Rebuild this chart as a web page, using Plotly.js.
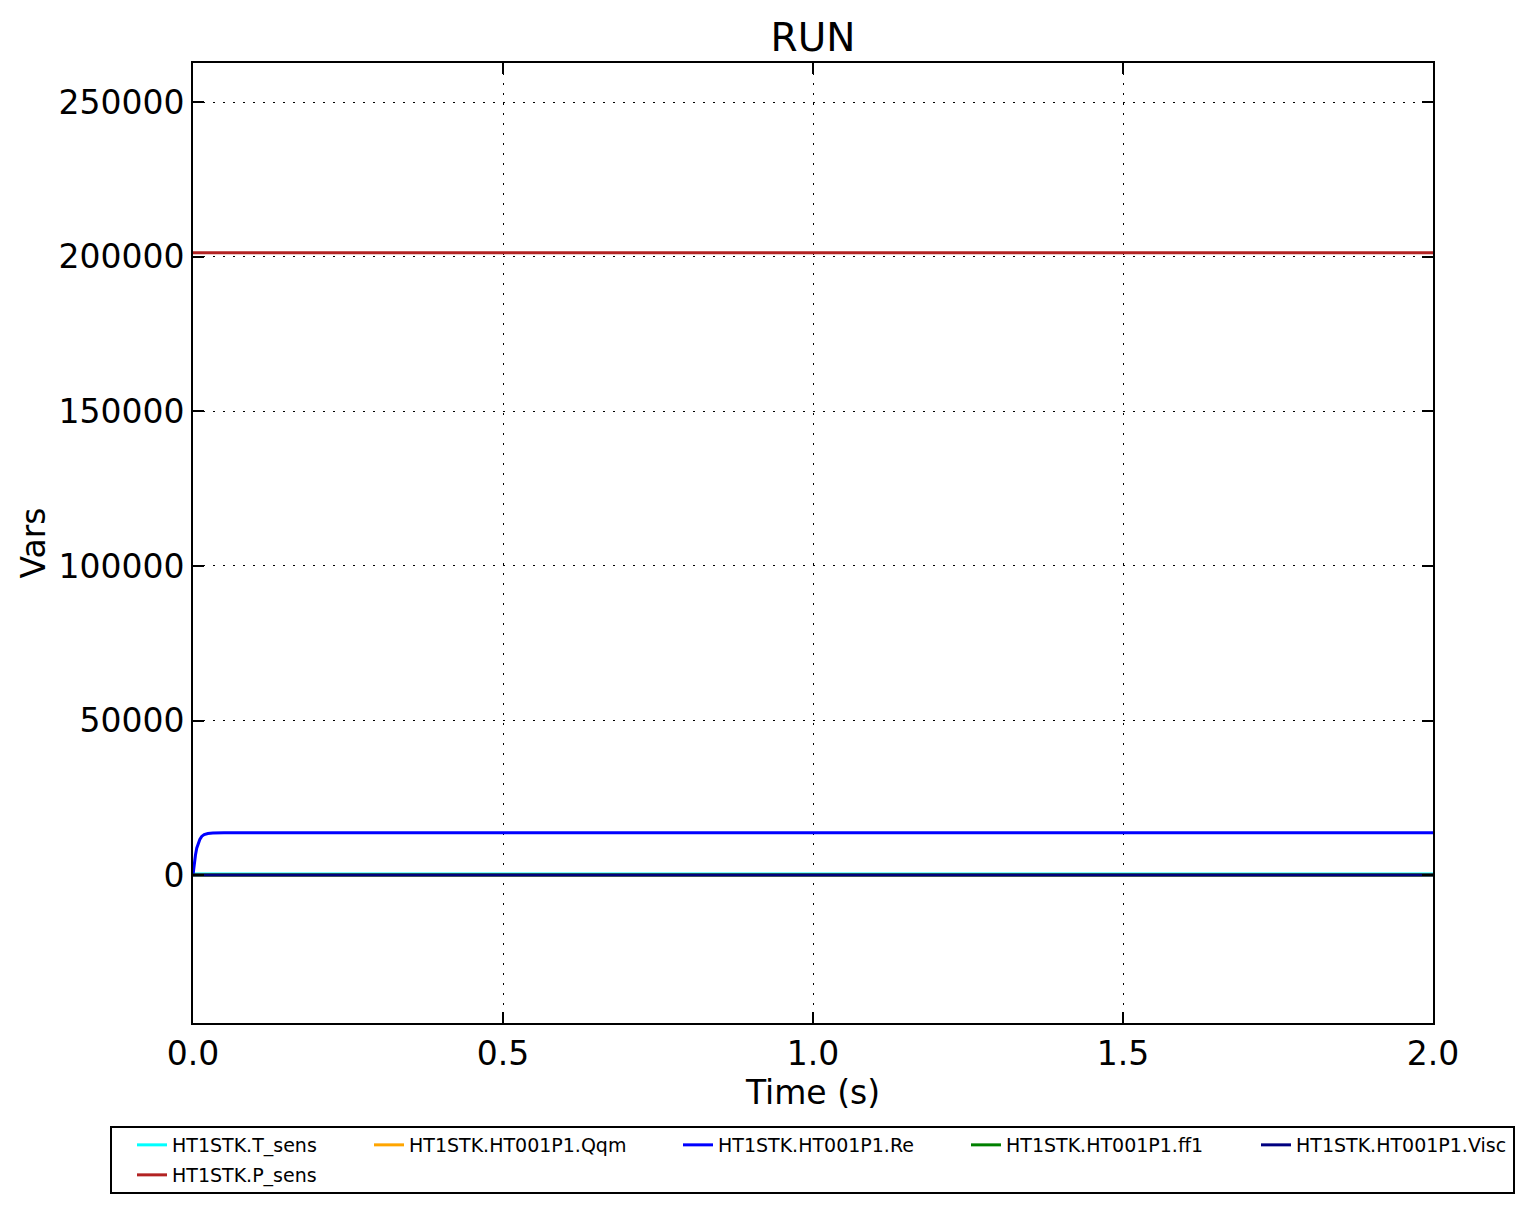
<!DOCTYPE html>
<html>
<head>
<meta charset="utf-8">
<script src="https://cdn.plot.ly/plotly-3.0.1.min.js"></script>
<style>
html,body{margin:0;padding:0;background:#fff;}
#chart{width:1534px;height:1214px;}
</style>
</head>
<body>
<div id="chart"></div>
<script>
// ---- data ----
const time = [0, 0.002, 0.004, 0.006, 0.008, 0.011, 0.014, 0.018, 0.024, 0.032, 0.05, 0.1, 0.5, 1.0, 1.5, 2.0];
const T_sens = [350, 350, 350, 350, 350, 350, 350, 350, 350, 350, 350, 350, 350, 350, 350, 350];
const P_sens = [201300, 201300, 201300, 201300, 201300, 201300, 201300, 201300, 201300, 201300, 201300, 201300, 201300, 201300, 201300, 201300];
const Qqm = [1.2, 1.2, 1.2, 1.2, 1.2, 1.2, 1.2, 1.2, 1.2, 1.2, 1.2, 1.2, 1.2, 1.2, 1.2, 1.2];
const Re = [0, 3700, 6500, 8700, 10000, 11500, 12500, 13100, 13450, 13600, 13650, 13650, 13650, 13650, 13650, 13650];
const ff1 = [0.03, 0.03, 0.03, 0.03, 0.03, 0.03, 0.03, 0.03, 0.03, 0.03, 0.03, 0.03, 0.03, 0.03, 0.03, 0.03];
const Visc = [0.001, 0.001, 0.001, 0.001, 0.001, 0.001, 0.001, 0.001, 0.001, 0.001, 0.001, 0.001, 0.001, 0.001, 0.001, 0.001];
const seriesNames = ["HT1STK.T_sens", "HT1STK.P_sens", "HT1STK.HT001P1.Qqm", "HT1STK.HT001P1.Re", "HT1STK.HT001P1.ff1", "HT1STK.HT001P1.Visc"];
const seriesValues = [T_sens, P_sens, Qqm, Re, ff1, Visc];
const xTickVals = [0, 0.5, 1.0, 1.5, 2.0];
const yTickVals = [0, 50000, 100000, 150000, 200000, 250000];

// ---- styling ----
const colors = ["#00ffff", "#b22222", "#ffa500", "#0000ff", "#008000", "#000080"];
// legend slot for each series (matplotlib column-major layout)
const legendIds = ["legend", "legend6", "legend2", "legend3", "legend4", "legend5"];

const traces = seriesNames.map((n, i) => ({
  x: time, y: seriesValues[i], name: n, type: "scatter", mode: "lines",
  line: {color: colors[i], width: 3},
  legend: legendIds[i], showlegend: true
}));

// plot area in pixels: x 193..1433, y 63..1023
const L = 193, R = 1433, T = 63, B = 1023;
const px = v => (v - L) / (R - L);
const py = v => (B - v) / (B - T);

const legFont = {family: "DejaVu Sans", size: 19, color: "#000"};
function leg(xpix, ypix) {
  return {x: px(xpix), y: py(ypix), xanchor: "left", yanchor: "middle",
    bgcolor: "rgba(0,0,0,0)", borderwidth: 0, font: legFont, orientation: "v"};
}
const textOff = 40;

const layout = {
  width: 1534, height: 1214,
  paper_bgcolor: "#fff", plot_bgcolor: "#fff",
  margin: {l: L, r: 1534 - R, t: T, b: 1214 - B, pad: 0},
  font: {family: "DejaVu Sans", color: "#000"},
  title: {text: "RUN", font: {size: 39, family: "DejaVu Sans", color: "#000"},
    x: 0.5, xref: "paper", xanchor: "center", y: 1 - 37 / 1214, yanchor: "middle", yref: "container"},
  xaxis: {
    range: [0, 2], tickvals: xTickVals, tickformat: ".1f",
    ticks: "inside", ticklen: 11, tickwidth: 1.5, tickcolor: "#000",
    showline: true, linewidth: 2, linecolor: "#000", mirror: "ticks",
    showgrid: true, gridcolor: "#000", gridwidth: 1, griddash: "2px,8px",
    zeroline: false, tickfont: {size: 33, family: "DejaVu Sans", color: "#000"},
    ticklabelstandoff: 0,
    title: {text: "Time (s)", font: {size: 33, family: "DejaVu Sans", color: "#000"}, standoff: 0}
  },
  yaxis: {
    range: [-47860, 262710], tickvals: yTickVals, tickformat: "d",
    ticks: "inside", ticklen: 11, tickwidth: 1.5, tickcolor: "#000",
    showline: true, linewidth: 2, linecolor: "#000", mirror: "ticks",
    showgrid: true, gridcolor: "#000", gridwidth: 1, griddash: "2px,8px",
    zeroline: false, tickfont: {size: 33, family: "DejaVu Sans", color: "#000"},
    ticklabelstandoff: 0,
    title: {text: "Vars", font: {size: 33, family: "DejaVu Sans", color: "#000"}, standoff: 3}
  },
  legend: leg(172 - textOff, 1145),
  legend6: leg(172 - textOff, 1175),
  legend2: leg(409 - textOff, 1145),
  legend3: leg(718 - textOff, 1145),
  legend4: leg(1006 - textOff, 1145),
  legend5: leg(1296 - textOff, 1145),
  shapes: [{type: "rect", xref: "paper", yref: "paper",
    x0: px(111), x1: px(1514), y0: py(1193), y1: py(1127),
    line: {color: "#000", width: 2}, fillcolor: "rgba(0,0,0,0)", layer: "above"}],
  showlegend: true
};

Plotly.newPlot("chart", traces, layout, {displayModeBar: false, responsive: false});
</script>
</body>
</html>
